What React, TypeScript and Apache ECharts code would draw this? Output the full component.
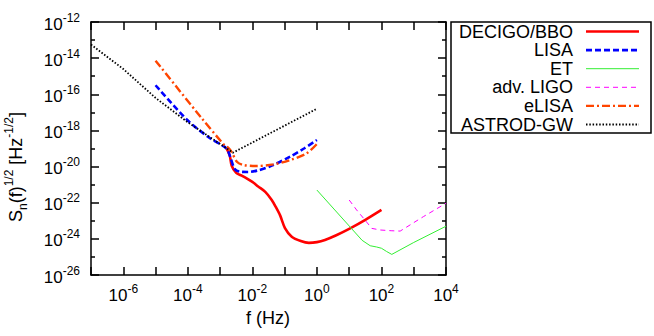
import React, { useEffect, useRef } from "react";
import * as echarts from "echarts";

// Series names (legend order)
const seriesNames = ["DECIGO/BBO", "LISA", "ET", "adv. LIGO", "eLISA", "ASTROD-GW"];

// All values are log10(f [Hz]) and log10(S_n^(1/2) [Hz^-1/2])
const decigoLogF = [-2.8, -2.7, -2.64, -2.5, -2.33, -2.0, -1.82, -1.6, -1.4, -1.27, -1.14, -0.99, -0.78, -0.5, -0.25, 0.0, 0.25, 0.6, 1.03, 1.5, 2.0];
const decigoLogS = [-19.0, -19.4, -19.95, -20.35, -20.5, -20.85, -21.1, -21.4, -21.85, -22.25, -22.7, -23.4, -23.88, -24.12, -24.22, -24.18, -24.06, -23.8, -23.42, -22.95, -22.4];

const lisaLogF = [-5, -4, -3.3, -2.8, -2.69, -2.54, -2.38, -2.13, -1.8, -1.4, -0.83, -0.4, 0];
const lisaLogS = [-15.5, -17.45, -18.45, -19.0, -19.45, -20.15, -20.28, -20.3, -20.2, -19.95, -19.45, -19.0, -18.53];

const etLogF = [0, 1.4, 1.65, 1.85, 2.0, 2.16, 2.32, 3.0, 4.0];
const etLogS = [-21.3, -24.08, -24.38, -24.45, -24.52, -24.7, -24.86, -24.2, -23.3];

const ligoLogF = [1.0, 1.23, 1.49, 1.7, 1.96, 2.3, 2.58, 3.3, 4.0];
const ligoLogS = [-21.85, -22.4, -22.96, -23.42, -23.51, -23.55, -23.57, -22.77, -22.03];

const elisaLogF = [-5, -3.58, -2.85, -2.75, -2.64, -2.48, -2.28, -1.87, -1.35, -0.83, -0.32, 0];
const elisaLogS = [-14.14, -17.3, -18.85, -18.95, -19.2, -19.73, -19.91, -19.97, -19.88, -19.64, -19.27, -18.75];

const astrodLogF = [-7, -6, -5, -4, -3, -2.6, 0];
const astrodLogS = [-13.25, -14.6, -16.2, -17.55, -18.75, -19.23, -16.8];

const xTickExps = [-7, 4];
const yTickExps = [-26, -12];

const FONT = "'Liberation Sans', Arial, sans-serif";

const pairs = (xs: number[], ys: number[]) => xs.map((x, i) => [x, ys[i]]);

const styles = [
  { color: "#ff0000", width: 2.6, type: "solid" as any },
  { color: "#0000ff", width: 2.6, type: [6, 3] as any },
  { color: "#33ee33", width: 1, type: "solid" as any },
  { color: "#ff00ff", width: 1, type: [5, 4] as any },
  { color: "#ff4500", width: 2.4, type: [8, 3, 2, 3] as any },
  { color: "#000000", width: 1.8, type: [1.5, 1.8] as any },
];

const dataSets = [
  pairs(decigoLogF, decigoLogS),
  pairs(lisaLogF, lisaLogS),
  pairs(etLogF, etLogS),
  pairs(ligoLogF, ligoLogS),
  pairs(elisaLogF, elisaLogS),
  pairs(astrodLogF, astrodLogS),
];

const labelRich = {
  b: { fontSize: 17, lineHeight: 21, verticalAlign: "bottom", fontFamily: FONT, color: "#000" },
  s: { fontSize: 12, lineHeight: 21, verticalAlign: "top", fontFamily: FONT, color: "#000" },
};

const powLabel = (v: number) => {
  const r = Math.round(v);
  if (Math.abs(v - r) > 1e-6 || r % 2 !== 0) return "";
  return `{b|10}{s|${r}}`;
};

export default function App() {
  const ref = useRef<HTMLDivElement>(null);
  useEffect(() => {
    if (!ref.current) return;
    const chart = echarts.init(ref.current, undefined, { renderer: "svg" });
    const axisLine = { show: true, onZero: false, lineStyle: { color: "#000", width: 1.5 } };
    const legendRows = seriesNames.map((n, i) => 31.5 + i * 18.6);
    const legendGraphics: any[] = [
      {
        type: "rect",
        shape: { x: 451, y: 22, width: 200, height: 111 },
        style: { fill: "#fff", stroke: "#000", lineWidth: 1.5 },
        z: 10,
      },
    ];
    seriesNames.forEach((n, i) => {
      legendGraphics.push({
        type: "text",
        x: 573,
        y: legendRows[i],
        style: { text: n, fontSize: 18, fontFamily: FONT, fill: "#000", align: "right", verticalAlign: "middle" },
        z: 11,
      });
      legendGraphics.push({
        type: "line",
        shape: { x1: 586, y1: legendRows[i], x2: 639, y2: legendRows[i] },
        style: {
          stroke: styles[i].color,
          lineWidth: styles[i].width,
          lineDash: Array.isArray(styles[i].type) ? styles[i].type : null,
        },
        z: 11,
      });
    });

    chart.setOption({
      animation: false,
      backgroundColor: "#fff",
      grid: { left: 91, top: 22, right: 208, bottom: 61, containLabel: false },
      xAxis: [
        {
          type: "value",
          min: xTickExps[0],
          max: xTickExps[1],
          interval: 1,
          position: "bottom",
          axisLine,
          axisTick: { show: true, inside: true, length: 8, lineStyle: { color: "#000", width: 1.5 } },
          axisLabel: { show: true, margin: 8, formatter: powLabel, rich: labelRich, hideOverlap: false, showMinLabel: true, showMaxLabel: true },
          splitLine: { show: false },
        },
        {
          type: "value",
          min: xTickExps[0],
          max: xTickExps[1],
          interval: 1,
          position: "top",
          axisLine,
          axisTick: { show: true, inside: true, length: 8, lineStyle: { color: "#000", width: 1.5 } },
          axisLabel: { show: false },
          splitLine: { show: false },
        },
      ],
      yAxis: [
        {
          type: "value",
          min: yTickExps[0],
          max: yTickExps[1],
          interval: 2,
          position: "left",
          axisLine,
          axisTick: { show: true, inside: true, length: 8, lineStyle: { color: "#000", width: 1.5 } },
          minorTick: { show: true, splitNumber: 2, length: 4, lineStyle: { color: "#000", width: 1.5 } },
          axisLabel: { show: true, margin: 11, formatter: powLabel, rich: labelRich, showMinLabel: true, showMaxLabel: true },
          splitLine: { show: false },
        },
        {
          type: "value",
          min: yTickExps[0],
          max: yTickExps[1],
          interval: 2,
          position: "right",
          axisLine,
          axisTick: { show: true, inside: true, length: 8, lineStyle: { color: "#000", width: 1.5 } },
          minorTick: { show: true, splitNumber: 2, length: 4, lineStyle: { color: "#000", width: 1.5 } },
          axisLabel: { show: false },
          splitLine: { show: false },
        },
      ],
      series: seriesNames.map((name, i) => ({
        name,
        type: "line",
        xAxisIndex: 0,
        yAxisIndex: 0,
        data: dataSets[i],
        showSymbol: false,
        symbol: "none",
        smooth: i === 0 || i === 1 || i === 4 ? 0.3 : false,
        lineStyle: { color: styles[i].color, width: styles[i].width, type: styles[i].type },
        emphasis: { disabled: true },
      })),
      graphic: [
        {
          type: "text",
          x: 268,
          y: 318,
          style: { text: "f (Hz)", fontSize: 18, fontFamily: FONT, fill: "#000", align: "center", verticalAlign: "middle" },
        },
        {
          type: "text",
          x: 16,
          y: 167,
          rotation: Math.PI / 2,
          style: {
            text: "{m|S}{sub|n}{m|(f)}{sup|1/2}{m| [Hz}{sup|-1/2}{m|]}",
            align: "center",
            verticalAlign: "middle",
            fill: "#000",
            rich: {
              m: { fontSize: 18, lineHeight: 26, verticalAlign: "middle", fontFamily: FONT, fill: "#000" },
              sup: { fontSize: 12, lineHeight: 26, verticalAlign: "top", fontFamily: FONT, fill: "#000" },
              sub: { fontSize: 12, lineHeight: 26, verticalAlign: "bottom", fontFamily: FONT, fill: "#000" },
            },
          },
        },
        ...legendGraphics,
      ],
    });
    return () => chart.dispose();
  }, []);
  return (
    <div
      ref={ref}
      style={{ position: "fixed", left: 0, top: 0, width: 654, height: 336, background: "#fff" }}
    />
  );
}
